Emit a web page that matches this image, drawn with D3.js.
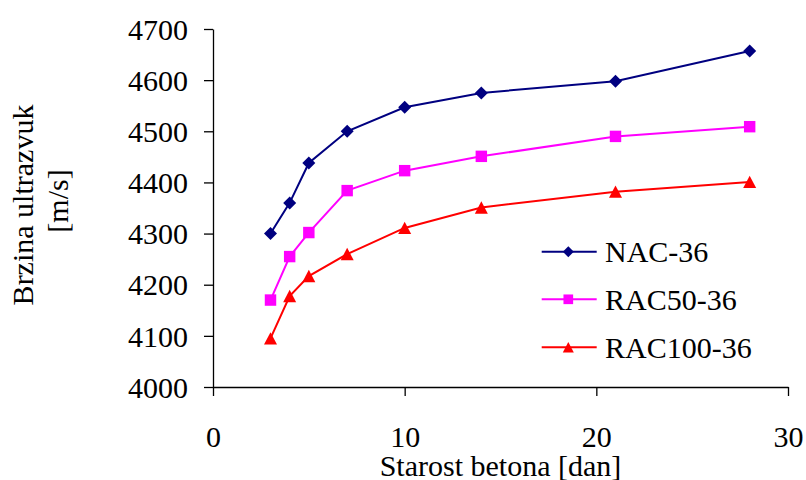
<!DOCTYPE html>
<html><head><meta charset="utf-8">
<script src="https://cdn.jsdelivr.net/npm/d3@7"></script>
<style>
html,body{margin:0;padding:0;background:#fff;}
svg{display:block;}
text{font-family:"Liberation Serif","Times New Roman",serif;fill:#000;}
</style></head>
<body>
<svg id="chart" width="806" height="480"></svg>
<script>
const days = [3, 4, 5, 7, 10, 14, 21, 28];
const seriesNames = ["NAC-36", "RAC50-36", "RAC100-36"];
const nac = [4300, 4360, 4438, 4500, 4547, 4575, 4598, 4657];
const rac50 = [4170, 4255, 4302, 4384, 4423, 4451, 4490, 4509];
const rac100 = [4095, 4178, 4217, 4260, 4311, 4351, 4382, 4401];
const xTicks = [0, 10, 20, 30];
const yTicks = [4000, 4100, 4200, 4300, 4400, 4500, 4600, 4700];
const xTitle = "Starost betona [dan]";
const yTitle = ["Brzina ultrazvuk", "[m/s]"];

const colors = ["#000080", "#FF00FF", "#FF0000"];
const shapes = ["diamond", "square", "triangle"];
const allSeries = [nac, rac50, rac100];

const svg = d3.select("#chart");
const x = d3.scaleLinear().domain([0, 30]).range([213, 788]);
const y = d3.scaleLinear().domain([4000, 4700]).range([387, 29]);
const FS = 30;

function markerPath(shape, s) {
  const h = s / 2;
  if (shape === "diamond") return `M0,${-h}L${h},0L0,${h}L${-h},0Z`;
  if (shape === "square") { const q = h * 0.88; return `M${-q},${-q}H${q}V${q}H${-q}Z`; }
  return `M0,${-h * 0.95}L${h},${h * 0.95}L${-h},${h * 0.95}Z`;
}

// axes
const yAxis = d3.axisLeft(y).tickValues(yTicks).tickSize(9).tickSizeOuter(0).tickPadding(16).tickFormat(d3.format("d"));
const gy = svg.append("g").attr("transform", `translate(${x(0)},0)`).call(yAxis);
gy.selectAll("text").style("font-size", FS + "px").attr("dy", "0.34em");

const xAxis = d3.axisBottom(x).tickValues(xTicks).tickSize(9).tickSizeOuter(0).tickFormat(d3.format("d"));
const gx = svg.append("g").attr("transform", `translate(0,${y(4000)})`).call(xAxis);
gx.selectAll("text").style("font-size", FS + "px").attr("y", 60).attr("dy", null);

svg.selectAll(".domain, .tick line").attr("stroke", "#000").attr("stroke-width", 1.3);

// series
allSeries.forEach((vals, i) => {
  const pts = days.map((d, j) => [x(d), y(vals[j])]);
  svg.append("path").attr("d", d3.line()(pts))
    .attr("fill", "none").attr("stroke", colors[i]).attr("stroke-width", 2);
  svg.append("g").selectAll("path").data(pts).join("path")
    .attr("transform", p => `translate(${p[0]},${p[1]})`)
    .attr("d", markerPath(shapes[i], 13))
    .attr("fill", colors[i]);
});

// legend
const legY = [251.7, 299.3, 347.3];
seriesNames.forEach((name, i) => {
  const g = svg.append("g");
  g.append("line").attr("x1", 541.7).attr("x2", 596.7).attr("y1", legY[i]).attr("y2", legY[i])
    .attr("stroke", colors[i]).attr("stroke-width", 2);
  g.append("path").attr("transform", `translate(568.3,${legY[i]})`)
    .attr("d", markerPath(shapes[i], 11)).attr("fill", colors[i]);
  g.append("text").attr("x", 605).attr("y", legY[i]).attr("dy", "0.34em")
    .style("font-size", FS + "px").text(name);
});

// titles
svg.append("text").attr("x", 500.5).attr("y", 476).attr("text-anchor", "middle")
  .style("font-size", FS + "px").text(xTitle);
svg.append("text").attr("transform", "translate(33,205) rotate(-90)").attr("text-anchor", "middle")
  .style("font-size", FS + "px").text(yTitle[0]);
svg.append("text").attr("transform", "translate(68,201) rotate(-90)").attr("text-anchor", "middle")
  .style("font-size", FS + "px").text(yTitle[1]);
</script>
</body></html>
